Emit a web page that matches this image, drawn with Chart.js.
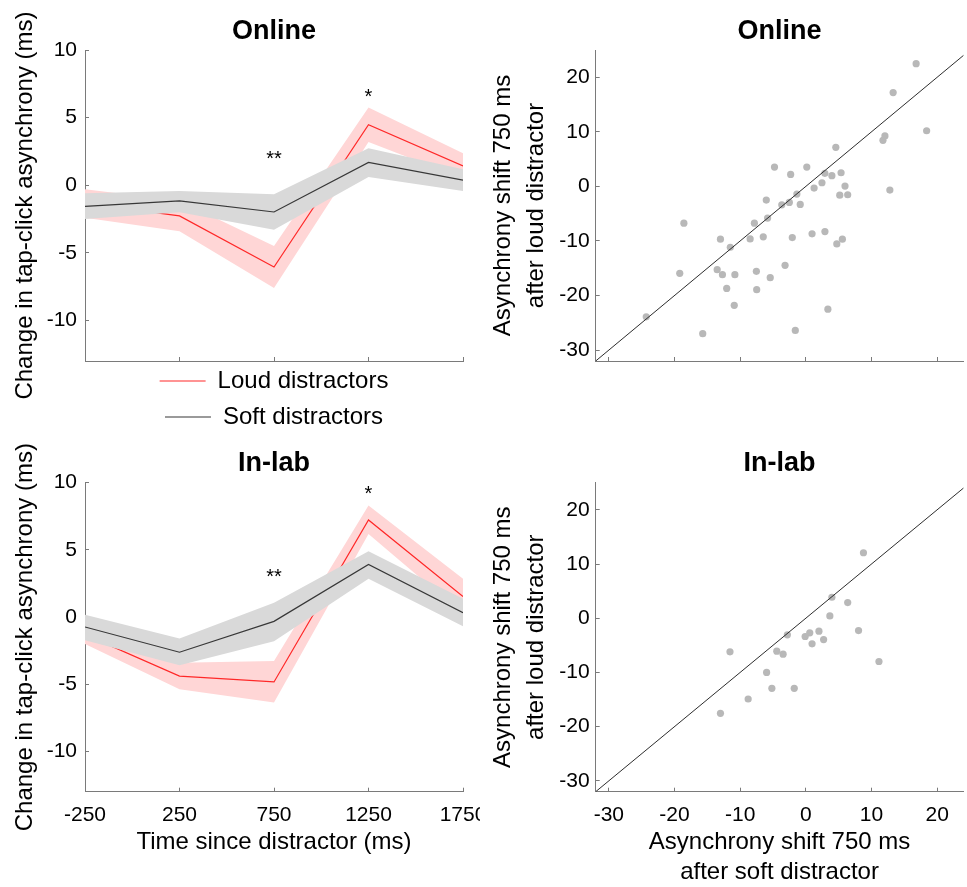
<!DOCTYPE html>
<html>
<head>
<meta charset="utf-8">
<script src="https://cdn.jsdelivr.net/npm/chart.js@4/dist/chart.umd.min.js"></script>
<style>
  html, body { margin: 0; padding: 0; background: #fff; overflow: hidden; width: 967px; height: 887px; }
  .panel { position: absolute; }
  canvas { display: block; }
</style>
</head>
<body>
<div class="panel" style="left:0;top:0;"><canvas id="onlineLine" width="480" height="443"></canvas></div>
<div class="panel" style="left:480px;top:0;"><canvas id="onlineScatter" width="487" height="440"></canvas></div>
<div class="panel" style="left:0;top:440px;"><canvas id="labLine" width="480" height="447"></canvas></div>
<div class="panel" style="left:480px;top:440px;"><canvas id="labScatter" width="487" height="447"></canvas></div>
<script>
// ---------------- data ----------------
const times = [-250, 250, 750, 1250, 1750];
const timeTicks = [-250, 250, 750, 1250, 1750];
const asynchronyTicks = [-10, -5, 0, 5, 10];
const shiftTicks = [-30, -20, -10, 0, 10, 20];

// Online: mean change in tap-click asynchrony (ms) and shaded error band edges
const loudOnline      = [-1.35, -2.27, -6.05, 4.47, 1.43];
const loudOnlineUpper = [-0.30, -1.15, -4.50, 5.75, 2.37];
const loudOnlineLower = [-2.40, -3.40, -7.60, 3.20, 0.50];
const softOnline      = [-1.56, -1.16, -1.98, 1.68, 0.37];
const softOnlineUpper = [-0.60, -0.42, -0.67, 2.74, 1.18];
const softOnlineLower = [-2.50, -2.00, -3.30, 0.60, -0.42];

// In-lab
const loudLab      = [-1.30, -4.40, -4.83, 7.23, 1.53];
const loudLabUpper = [-0.60, -3.40, -3.27, 8.30, 2.85];
const loudLabLower = [-2.00, -5.37, -6.36, 6.19, 0.20];
const softLab      = [-0.74, -2.62, -0.32, 3.91, 0.32];
const softLabUpper = [0.17, -1.60, 1.06, 4.90, 1.36];
const softLabLower = [-1.73, -3.59, -1.80, 2.85, -0.69];

// significance markers
const onlineStarX = [750, 1250];
const onlineStarY = [2.29, 6.88];
const onlineStarText = ['**', '*'];
const labStarX = [750, 1250];
const labStarY = [3.34, 9.52];
const labStarText = ['**', '*'];

// Scatter: asynchrony shift at 750 ms after soft (x) vs loud (y) distractor
const onlineSoftShift = [16.8, 13.3, 18.4, 12.05, 11.75, 12.8, 4.57, -4.77, 0.15, -2.31,
  2.9, 3.97, 5.37, 2.46, 1.26, 5.97, 5.17, 6.38, -1.36, -2.51,
  -3.66, -0.85, -6.02, -5.82, -7.83, -18.57, -13.0, -8.48, -6.48, -2.06,
  0.95, 2.91, 4.72, 5.57, -11.5, -13.5, -12.7, -10.8, -19.2, -7.53,
  -3.16, -5.42, -12.05, -7.48, -10.9, 3.36, -24.3, -15.7, -1.6];
const onlineLoudShift = [22.5, 17.2, 10.2, 9.25, 8.45, -0.67, 7.17, 3.55, 3.55, 2.2,
  2.4, 1.96, 2.5, 0.67, -0.3, 0.06, -1.6, -1.53, -1.4, -2.94,
  -3.37, -3.3, -2.5, -5.8, -6.74, -6.74, -9.68, -9.62, -9.25, -9.37,
  -8.7, -8.27, -10.54, -9.68, -11.15, -15.26, -16.18, -16.18, -15.93, -15.56,
  -14.46, -16.73, -18.69, -18.93, -21.8, -22.5, -23.9, -27.0, -26.4];
const labSoftShift = [8.78, 3.97, 6.38, 3.66, 8.03, 2.0, 0.6, -0.1, -2.81, 0.95,
  2.71, -4.42, -3.46, -11.55, 11.14, -5.97, -5.17, -1.76, -8.78, -13.0];
const labLoudShift = [12.08, 3.87, 2.88, 0.43, -2.27, -2.39, -2.7, -3.37, -3.07, -4.72,
  -3.93, -6.07, -6.63, -6.2, -7.98, -10.0, -12.94, -12.94, -14.9, -17.55];

// identity (y = x) reference line, in data units
const identityX = [-32, 25];

// ---------------- styling ----------------
const FONT = "'Liberation Sans', Arial, Helvetica, sans-serif";
const AXIS = '#7a7a7a';
const RED = 'rgb(255,40,40)';
const PINK = 'rgb(255,214,214)';
const DARK = 'rgb(55,55,55)';
const GREYBAND = 'rgb(217,217,217)';
const DOT = 'rgb(184,184,184)';

Chart.defaults.font.family = FONT;
Chart.defaults.color = '#000';

const xy = (xs, ys) => xs.map((v, i) => ({x: v, y: ys[i]}));

const starPlugin = {
  id: 'stars',
  afterDatasetsDraw(chart, args, opts) {
    if (!opts || !opts.x) return;
    const {ctx} = chart;
    const sx = chart.scales.x, sy = chart.scales.y;
    ctx.save();
    ctx.font = '20px ' + FONT;
    ctx.fillStyle = '#000';
    ctx.textAlign = 'center';
    ctx.textBaseline = 'alphabetic';
    opts.x.forEach((v, i) => {
      ctx.fillText(opts.text[i], sx.getPixelForValue(v), sy.getPixelForValue(opts.y[i]) + 11);
    });
    ctx.restore();
  }
};

function makeAxis(min, max, tickVals, opt) {
  return {
    type: 'linear', min, max,
    afterBuildTicks: (s) => { s.ticks = tickVals.map(v => ({value: v})); },
    afterFit: opt.afterFit,
    grid: { drawOnChartArea: false, drawTicks: true, tickLength: -4, tickColor: AXIS, tickWidth: 1 },
    border: { display: true, color: AXIS, width: 1 },
    ticks: { display: opt.labels, color: '#000', font: {size: 21, family: FONT}, padding: opt.pad,
             maxRotation: 0, autoSkip: false, callback: (v) => String(v) },
    title: opt.title || {display: false}
  };
}

function titleOpts(text, pt, pb) {
  return { display: true, text, fullSize: false, color: '#000',
           font: {size: 27, weight: 'bold', family: FONT, lineHeight: 1.2},
           padding: {top: pt, bottom: pb} };
}

function lineDatasets(loud, loudUp, loudLo, soft, softUp, softLo) {
  const base = { pointRadius: 0, pointHoverRadius: 0, tension: 0 };
  return [
    Object.assign({ label: 'Loud distractors', data: xy(times, loud), borderColor: RED, backgroundColor: RED, borderWidth: 1.2, fill: false, order: 3 }, base),
    Object.assign({ label: 'loud upper', data: xy(times, loudUp), borderWidth: 0, borderColor: 'rgba(0,0,0,0)', backgroundColor: PINK, fill: '+1', order: 4 }, base),
    Object.assign({ label: 'loud lower', data: xy(times, loudLo), borderWidth: 0, borderColor: 'rgba(0,0,0,0)', backgroundColor: PINK, fill: false, order: 5 }, base),
    Object.assign({ label: 'Soft distractors', data: xy(times, soft), borderColor: DARK, backgroundColor: DARK, borderWidth: 1.2, fill: false, order: 0 }, base),
    Object.assign({ label: 'soft upper', data: xy(times, softUp), borderWidth: 0, borderColor: 'rgba(0,0,0,0)', backgroundColor: GREYBAND, fill: '+1', order: 1 }, base),
    Object.assign({ label: 'soft lower', data: xy(times, softLo), borderWidth: 0, borderColor: 'rgba(0,0,0,0)', backgroundColor: GREYBAND, fill: false, order: 2 }, base)
  ];
}

const yTitleLeft = { display: true, text: 'Change in tap-click asynchrony (ms)', color: '#000',
  font: {size: 24, family: FONT, lineHeight: 1.2}, padding: {top: 10.6, bottom: 0} };

// ---------- Online line chart ----------
new Chart(document.getElementById('onlineLine'), {
  type: 'line',
  data: { datasets: lineDatasets(loudOnline, loudOnlineUpper, loudOnlineLower, softOnline, softOnlineUpper, softOnlineLower) },
  options: {
    responsive: false, animation: false, devicePixelRatio: 1,
    layout: { padding: {left: 0, right: 17, top: 0, bottom: 0} },
    plugins: {
      title: titleOpts('Online', 15.8, 1.8),
      legend: {
        display: true, position: 'bottom', align: 'center', fullSize: false,
        labels: {
          usePointStyle: true, pointStyle: 'line', pointStyleWidth: 46,
          font: {size: 24, family: FONT}, color: '#000', padding: 12,
          filter: (item) => item.datasetIndex === 0 || item.datasetIndex === 3,
          sort: (a, b) => a.datasetIndex - b.datasetIndex
        }
      },
      tooltip: {enabled: false},
      stars: { x: onlineStarX, y: onlineStarY, text: onlineStarText }
    },
    scales: {
      x: makeAxis(-250, 1750, timeTicks, { labels: false, pad: 0,
          afterFit: (s) => { s.height = -4; s.paddingLeft = 0; s.paddingRight = 0; } }),
      y: makeAxis(-13, 10, asynchronyTicks, { labels: true, pad: 12, title: yTitleLeft,
          afterFit: (s) => { s.width = 85; s.paddingTop = 0; s.paddingBottom = 0; } })
    }
  },
  plugins: [starPlugin]
});

// ---------- In-lab line chart ----------
new Chart(document.getElementById('labLine'), {
  type: 'line',
  data: { datasets: lineDatasets(loudLab, loudLabUpper, loudLabLower, softLab, softLabUpper, softLabLower) },
  options: {
    responsive: false, animation: false, devicePixelRatio: 1,
    layout: { padding: {left: 0, right: 17, top: 0, bottom: 0} },
    plugins: {
      title: titleOpts('In-lab', 7.6, 2.7),
      legend: { display: false },
      tooltip: {enabled: false},
      stars: { x: labStarX, y: labStarY, text: labStarText }
    },
    scales: {
      x: makeAxis(-250, 1750, timeTicks, { labels: true, pad: 15.2,
          title: { display: true, text: 'Time since distractor (ms)', color: '#000',
                   font: {size: 24, family: FONT, lineHeight: 1.2}, padding: {top: 0, bottom: 30.3} },
          afterFit: (s) => { s.height = 95.3; s.paddingLeft = 0; s.paddingRight = 0; } }),
      y: makeAxis(-13, 10, asynchronyTicks, { labels: true, pad: 12, title: yTitleLeft,
          afterFit: (s) => { s.width = 85; s.paddingTop = 0; s.paddingBottom = 0; } })
    }
  },
  plugins: [starPlugin]
});

// ---------- scatter charts ----------
function scatterChart(id, xs, ys, title, tpt, tpb, xAxisH, showXLabels, xTitle) {
  return new Chart(document.getElementById(id), {
    type: 'scatter',
    data: { datasets: [
      { type: 'line', label: 'identity', data: xy(identityX, identityX), borderColor: 'rgb(45,45,45)', borderWidth: 1,
        pointRadius: 0, pointHoverRadius: 0, fill: false, tension: 0, order: 0 },
      { label: 'participants', data: xy(xs, ys), backgroundColor: DOT, borderWidth: 0, pointRadius: 3.6, pointHoverRadius: 3.6, order: 1 }
    ]},
    options: {
      responsive: false, animation: false, devicePixelRatio: 1,
      layout: { padding: 0 },
      plugins: {
        title: titleOpts(title, tpt, tpb),
        legend: { display: false },
        tooltip: { enabled: false }
      },
      scales: {
        x: makeAxis(-32, 24, shiftTicks, { labels: showXLabels, pad: 15.2, title: xTitle,
            afterFit: (s) => { s.height = xAxisH; s.paddingLeft = 0; s.paddingRight = 0; } }),
        y: makeAxis(-32, 25, shiftTicks, { labels: true, pad: 10,
            title: { display: true, text: ['Asynchrony shift 750 ms', 'after loud distractor'], color: '#000',
                     font: {size: 24, family: FONT, lineHeight: 1.39}, padding: {top: 6.6, bottom: 0} },
            afterFit: (s) => { s.width = 115.7; s.paddingTop = 0; s.paddingBottom = 0; } })
      }
    }
  });
}

scatterChart('onlineScatter', onlineSoftShift, onlineLoudShift, 'Online', 15.8, 1.8, 79, false, null);
scatterChart('labScatter', labSoftShift, labLoudShift, 'In-lab', 7.6, 2.7, 95.3, true,
  { display: true, text: ['Asynchrony shift 750 ms', 'after soft distractor'], color: '#000',
    font: {size: 24, family: FONT, lineHeight: 1.25}, padding: {top: 0, bottom: 0} });
</script>
</body>
</html>
